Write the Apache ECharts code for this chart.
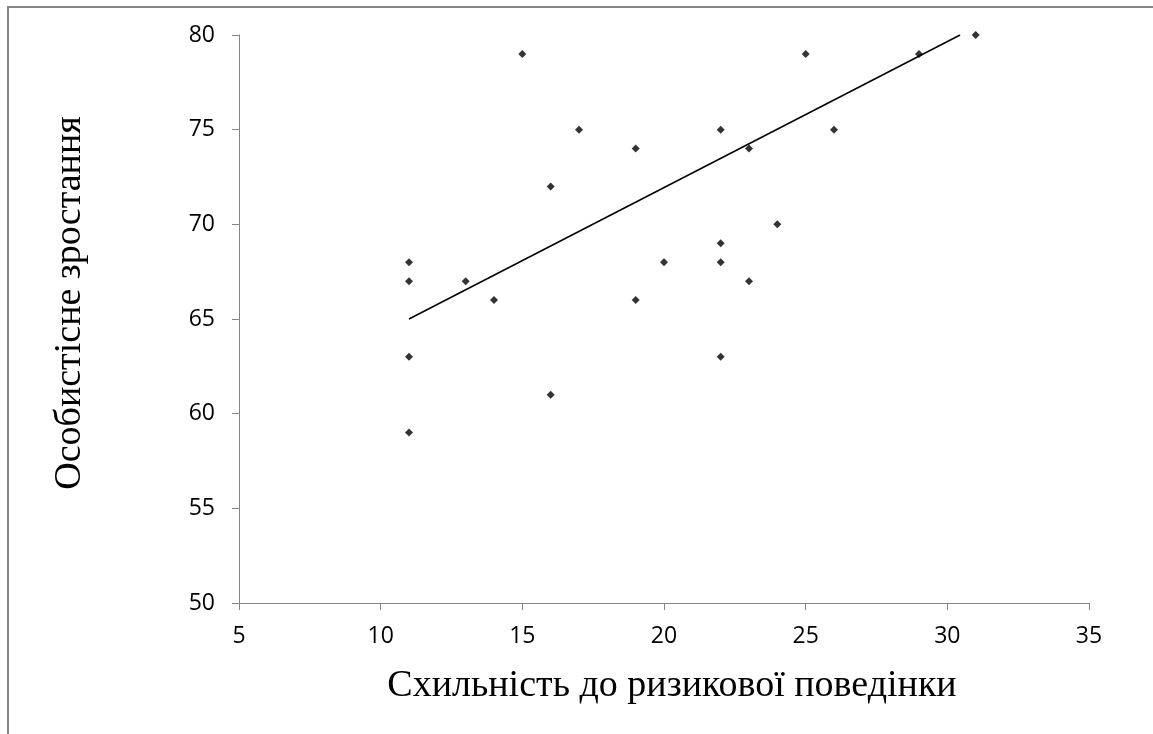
<!DOCTYPE html>
<html>
<head>
<meta charset="utf-8">
<script src="https://cdn.jsdelivr.net/npm/echarts@6/dist/echarts.min.js"></script>
<style>
html,body{margin:0;padding:0;background:#fff;overflow:hidden;}
#wrap{position:relative;width:1153px;height:734px;overflow:hidden;}
#frame{position:absolute;left:7px;top:6px;width:1300px;height:900px;border-top:2px solid #868686;border-left:2px solid #868686;}
#c{position:absolute;left:0;top:0;width:1153px;height:734px;}
</style>
</head>
<body>
<div id="wrap"><div id="frame"></div><div id="c"></div></div>
<script>
const xValues = [11, 11, 11, 11, 13, 14, 15, 16, 16, 17, 19, 19, 20, 22, 22, 22, 22, 23, 23, 24, 25, 26, 29, 31];
const yValues = [68, 67, 63, 59, 67, 66, 79, 72, 61, 75, 74, 66, 68, 75, 69, 68, 63, 74, 67, 70, 79, 75, 79, 80];
const trendX = [11, 30.45];
const trendY = [65, 80];
const xTitle = 'Схильність до ризикової поведінки';
const yTitle = 'Особистісне зростання';

const points = xValues.map((x, i) => [x, yValues[i]]);
const trend = trendX.map((x, i) => [x, trendY[i]]);

const chart = echarts.init(document.getElementById('c'));
const axisColor = '#868686';
chart.setOption({
  animation: false,
  backgroundColor: 'transparent',
  grid: { left: 239, top: 35, right: 64, bottom: 131 },
  xAxis: {
    type: 'value', min: 5, max: 35, interval: 5,
    name: xTitle, nameLocation: 'middle', nameGap: 64,
    nameTextStyle: { fontFamily: 'Liberation Serif', fontSize: 38, color: '#000', padding: [0, 0, 0, 16] },
    axisLine: { show: true, lineStyle: { color: axisColor, width: 1 } },
    axisTick: { show: true, length: 7, lineStyle: { color: axisColor } },
    axisLabel: { fontFamily: 'Open Sans', fontSize: 23, color: '#000', margin: 22 },
    splitLine: { show: false }
  },
  yAxis: {
    type: 'value', min: 50, max: 80, interval: 5,
    name: yTitle, nameLocation: 'middle', nameGap: 150,
    nameTextStyle: { fontFamily: 'Liberation Serif', fontSize: 38, color: '#000', padding: [0, 0, 0, 32] },
    axisLine: { show: true, lineStyle: { color: axisColor, width: 1 } },
    axisTick: { show: true, length: 7, lineStyle: { color: axisColor } },
    axisLabel: { fontFamily: 'Open Sans', fontSize: 23, color: '#000', margin: 24 },
    splitLine: { show: false }
  },
  series: [
    {
      type: 'line', data: trend, showSymbol: false, symbol: 'none',
      lineStyle: { color: '#000', width: 1.5 }, silent: true, z: 1
    },
    {
      type: 'scatter', data: points, symbol: 'diamond', symbolSize: 8,
      itemStyle: { color: '#000' }, z: 2
    }
  ]
});
</script>
</body>
</html>
